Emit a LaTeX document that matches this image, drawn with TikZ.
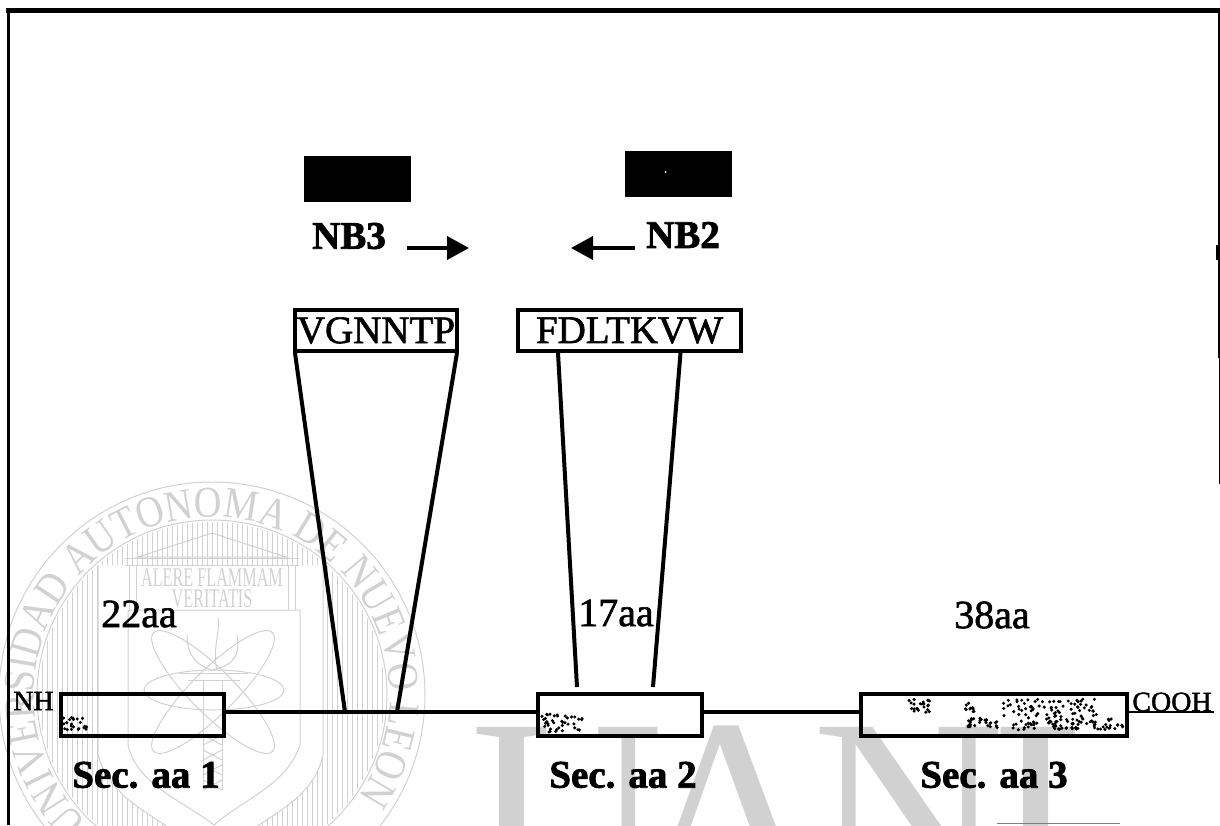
\documentclass[tikz,border=0pt]{standalone}
\usepackage{fontspec}
\setmainfont{Liberation Serif}[FakeBold=1.5, BoldFeatures={FakeBold=2}]
\newfontfamily\sealfont[FakeStretch=0.87]{Liberation Serif}
\newfontfamily\mottofont[FakeStretch=0.6]{Liberation Serif}
\newfontfamily\bigfont{Liberation Serif}
\usetikzlibrary{arrows.meta,decorations.text}
\definecolor{wmgray}{gray}{0.82}
\tikzset{
  seqbox/.style={draw, line width=4pt, inner sep=0pt, minimum height=41pt, font=\fontsize{39}{39}\selectfont},
  secbox/.style={draw, line width=4pt, minimum height=42pt, inner sep=0pt},
  blackbox/.style={fill=black, minimum width=107pt, minimum height=46pt, inner sep=0pt},
  lentext/.style={inner sep=0pt, font=\fontsize{40}{40}\selectfont},
  boldtext/.style={inner sep=0pt, font=\fontsize{39}{39}\selectfont\bfseries},
  endtext/.style={inner sep=0pt, font=\fontsize{28}{28}\selectfont},
  bigletter/.style={anchor=base west, inner sep=0pt, text=wmgray, font=\bigfont\fontsize{266}{266}\selectfont},
  mottotext/.style={text=wmgray, inner sep=0pt, font=\mottofont\fontsize{27}{27}\selectfont},
  funnel/.style={line width=4pt},
  seal/.style={draw=wmgray, line width=1pt},
}
\newcommand{\specks}[5]{\foreach \i in {1,...,#5}{\fill ({#1+#3*rnd},{#2+#4*rnd}) circle (1.7pt);}}
\begin{document}
\begin{tikzpicture}[x=1pt, y=-1pt, >={Triangle[length=22pt,width=23pt]}, line cap=butt]
  \useasboundingbox (0,0) rectangle (1220,825);

  % Watermark
  \begin{scope}
    \clip (0,0) rectangle (1220,825);
    \node[bigletter] (bigu) at (471,901) {U};
    \node[bigletter] (biga) at (632,901) {A};
    \node[bigletter] (bign) at (812,901) {N};
    \node[bigletter] (bigl) at (993,901) {L};
    \draw[gray, line width=1pt] (997,823.5) -- (1120,823.5);
    \begin{scope}[shift={(212,695)}, y=1pt]
      % ring
      \draw[seal] (0,0) circle (213pt);
      \draw[seal] (0,0) circle (175pt);
      \path[decorate, decoration={text along path, text align=center,
        text={|\sealfont\fontsize{44}{44}\selectfont\color{wmgray}|UNIVERSIDAD AUTONOMA DE NUEVO LEON}}]
        (230:178pt) arc (230:-39:178pt);
      % hatching
      \begin{scope}[even odd rule]
        \clip (0,0) circle (173pt)
          (-114,130) -- (-114,-60) .. controls (-100,-110) and (-50,-120) .. (0,-165) .. controls (50,-120) and (100,-110) .. (111,-60) -- (111,130) -- cycle;
        \foreach \hx in {-175,-170,...,175}
          \draw[wmgray, line width=0.7pt] (\hx,-180) -- (\hx,180);
      \end{scope}
      % temple
      \begin{scope}
        \clip (0,0) circle (173pt);
        \foreach \hx in {-100,-95,...,100}
          \draw[wmgray, line width=0.7pt] (\hx,175) -- (\hx,138);
      \end{scope}
      \draw[seal] (-74,138) -- (0,162) -- (74,138) -- cycle;
      \draw[seal] (-87,137) -- (87,137) (-87,130) -- (87,130);
      \draw[seal] (-83,130) -- (-83,85) (-76,130) -- (-76,85) (83,130) -- (83,85) (76,130) -- (76,85);
      \node[mottotext] (motto) at (0,117) {ALERE FLAMMAM};
      \node[mottotext] (motto2) at (0,96) {VERITATIS};
      % shield
      \draw[seal] (-114,130) -- (-114,-60) .. controls (-100,-110) and (-50,-120) .. (0,-165) .. controls (50,-120) and (100,-110) .. (111,-60) -- (111,130);
      \draw[seal] (-84,85) -- (88,85) -- (88,-50) .. controls (75,-90) and (30,-105) .. (2,-130) .. controls (-30,-105) and (-75,-90) .. (-84,-50) -- cycle;
      % atom and torch
      \draw[seal] (2,5) ellipse [x radius=70pt, y radius=20pt];
      \draw[seal, rotate around={45:(1,3)}] (1,3) ellipse [x radius=84pt, y radius=22pt];
      \draw[seal, rotate around={-45:(1,3)}] (1,3) ellipse [x radius=84pt, y radius=22pt];
      \draw[seal] (-25,60) .. controls (-25,35) and (-10,28) .. (0,25) .. controls (15,28) and (30,35) .. (25,60) (5,25) .. controls (0,45) and (8,60) .. (6,77);
      \draw[seal] (-32,22) -- (36,22) (-24,15) -- (28,15);
      \draw[seal] (-9,15) -- (-9,-95) (10,15) -- (10,-95);
      \foreach \ty in {-40,-55,...,-85}
        \draw[seal] (-9,\ty) -- (10,\ty-10) (10,\ty) -- (-9,\ty-10);
    \end{scope}
  \end{scope}

  % Frame
  \draw[line width=5pt] (6,10) -- (1220,10);
  \draw[line width=3.5pt] (8.5,8) -- (8.5,825);
  \draw[line width=2pt] (1218.5,10) -- (1218.5,358);
  \draw[line width=1pt] (1219,358) -- (1219,484);
  \fill (1216,245) rectangle (1220,260);

  % Primers
  \node[blackbox] (nb3box) at (357,179) {};
  \node[blackbox] (nb2box) at (678.5,174) {};
  \fill[white] (665.5,172) circle (1pt);
  \node[boldtext] (nb3) at (349,236) {NB3};
  \node[boldtext] (nb2) at (683,235) {NB2};
  \coordinate (nb3tip) at (469,248);
  \coordinate (nb2tip) at (571,248);
  \draw[->, line width=4pt] ([shift={(21pt,-12pt)}]nb3.east) -- (nb3tip);
  \draw[->, line width=4pt] ([shift={(-11pt,-13pt)}]nb2.west) -- (nb2tip);

  % Peptides
  \node[seqbox, minimum width=162pt] (pep1) at (376,330.5) {VGNNTP};
  \node[seqbox, minimum width=223pt] (pep2) at (629.5,330.5) {FDLTKVW};

  % Sequences and backbone
  \node[secbox, minimum width=163pt] (sec1) at (142.5,715) {};
  \node[secbox, minimum width=164pt] (sec2) at (620,715) {};
  \node[secbox, minimum width=266pt] (sec3) at (994,715) {};
  \coordinate (cterm) at (1214,712);
  \draw[line width=4pt] ([yshift=3pt]sec1.east) -- ([yshift=3pt]sec2.west);
  \draw[line width=4pt] ([yshift=3pt]sec2.east) -- ([yshift=3pt]sec3.west);
  \draw[line width=2.5pt] ([yshift=3pt]sec3.east) -- (cterm);

  % Insert lines
  \coordinate (ins1) at (345,712);
  \coordinate (ins2) at (397,712);
  \coordinate (ins3) at (577,687);
  \coordinate (ins4) at (653,687);
  \draw[funnel] ([xshift=2pt]pep1.south west) -- (ins1);
  \draw[funnel] ([xshift=-2pt]pep1.south east) -- (ins2);
  \draw[funnel] ([xshift=-71.5pt]pep2.south) -- (ins3);
  \draw[funnel] ([xshift=51pt]pep2.south) -- (ins4);

  % Labels
  \node[lentext] (len1) at (139,614) {22aa};
  \node[lentext] (len2) at (616,613) {17aa};
  \node[lentext] (len3) at (992,615) {38aa};
  \node[boldtext] (name1) at (146,775) {Sec. aa 1};
  \node[boldtext] (name2) at (623,775) {Sec. aa 2};
  \node[boldtext] (name3) at (994,775) {Sec. aa 3};
  \node[endtext] (nterm) at (33.5,701) {NH};
  \node[endtext] (cooh) at (1172,702) {COOH};

  % Stains in the boxes
  \pgfmathsetseed{7}
  \specks{63}{716}{24}{14}{22}
  \specks{542}{714}{45}{18}{40}
  \specks{908}{699}{22}{14}{22}
  \specks{965}{702}{12}{10}{10}
  \specks{965}{718}{35}{10}{30}
  \specks{1003}{699}{94}{19}{75}
  \specks{1013}{719}{110}{11}{85}
\end{tikzpicture}
\end{document}
